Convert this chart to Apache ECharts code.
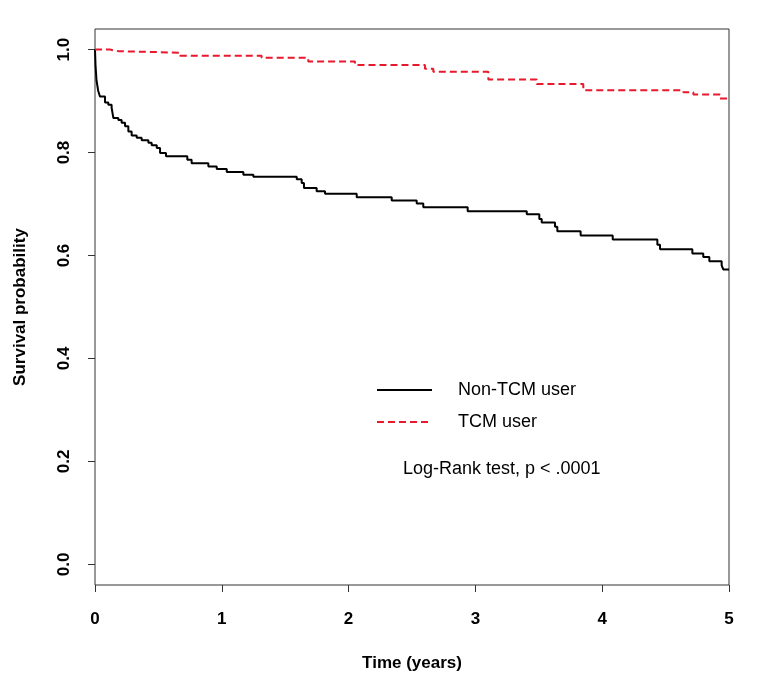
<!DOCTYPE html>
<html>
<head>
<meta charset="utf-8">
<title>Survival probability</title>
<script src="https://cdn.jsdelivr.net/npm/echarts@6/dist/echarts.min.js"></script>
<style>
  html, body { margin: 0; padding: 0; background: #fff; }
  #chart { width: 760px; height: 681px; }
</style>
</head>
<body>
<div id="chart"></div>
<script>
// Kaplan-Meier step points: [time in years, survival after the step]
const nonTcmTimes = [0, 0.004, 0.012, 0.025, 0.039, 0.079, 0.105, 0.131, 0.145, 0.184, 0.21, 0.237, 0.263, 0.289, 0.329,
  0.368, 0.421, 0.447, 0.487, 0.513, 0.56, 0.728, 0.762, 0.894, 0.96, 1.039, 1.17, 1.249, 1.591, 1.63, 1.648, 1.748,
  1.814, 2.064, 2.34, 2.537, 2.589, 2.939, 3.405, 3.504, 3.523, 3.628, 3.646, 3.83, 4.083, 4.435, 4.456, 4.711,
  4.797, 4.845, 4.942, 4.955, 5];
const nonTcmSurv = [1, 0.97, 0.94, 0.92, 0.909, 0.897, 0.893, 0.887, 0.867, 0.863, 0.858, 0.851, 0.841, 0.833, 0.829,
  0.824, 0.819, 0.814, 0.809, 0.799, 0.793, 0.786, 0.779, 0.773, 0.768, 0.762, 0.757, 0.753, 0.748, 0.741, 0.731, 0.725,
  0.72, 0.713, 0.707, 0.701, 0.694, 0.686, 0.68, 0.671, 0.664, 0.656, 0.647, 0.639, 0.631, 0.621, 0.612, 0.604,
  0.597, 0.589, 0.581, 0.573, 0.573];

const tcmTimes = [0, 0.118, 0.184, 0.67, 1.314, 1.682, 2.05, 2.602, 2.668, 3.102, 3.483, 3.851, 4.64, 4.719, 4.929, 5];
const tcmSurv = [1, 0.997, 0.994, 0.988, 0.984, 0.977, 0.97, 0.963, 0.957, 0.942, 0.933, 0.921, 0.917, 0.913, 0.905, 0.905];

const xTicks = [0, 1, 2, 3, 4, 5];
const yTicks = [0, 0.2, 0.4, 0.6, 0.8, 1.0];

const FONT = '"Liberation Sans", Arial, sans-serif';

const zip = (a, b) => a.map((v, i) => [v, b[i]]);

const chart = echarts.init(document.getElementById('chart'));

chart.setOption({
  backgroundColor: '#fff',
  animation: false,
  grid: {
    left: 95, right: 31, top: 29, bottom: 96,
    show: true, borderColor: '#333', borderWidth: 1, backgroundColor: 'transparent'
  },
  xAxis: {
    type: 'value', min: 0, max: 5, interval: 1,
    axisLine: { show: false, onZero: false },
    axisTick: { show: true, inside: false, length: 7, lineStyle: { color: '#333' } },
    splitLine: { show: false },
    axisLabel: {
      margin: 26, fontFamily: FONT, fontWeight: 'bold', fontSize: 17, color: '#000',
      formatter: v => xTicks.includes(v) ? String(v) : ''
    },
    name: 'Time (years)', nameLocation: 'middle', nameGap: 70,
    nameTextStyle: { fontFamily: FONT, fontWeight: 'bold', fontSize: 17, color: '#000' }
  },
  yAxis: {
    type: 'value', min: -0.04, max: 1.04,
    axisLine: { show: false, onZero: false },
    axisTick: { show: true, length: 7, customValues: yTicks, lineStyle: { color: '#333' } },
    splitLine: { show: false },
    axisLabel: {
      customValues: yTicks, rotate: 90, margin: 22,
      fontFamily: FONT, fontWeight: 'bold', fontSize: 17, color: '#000',
      formatter: v => v.toFixed(1)
    },
    name: 'Survival probability', nameLocation: 'middle', nameGap: 66, nameRotate: 90,
    nameTextStyle: { fontFamily: FONT, fontWeight: 'bold', fontSize: 17, color: '#000' }
  },
  legend: {
    orient: 'vertical', left: 371, top: 376,
    itemWidth: 55, itemHeight: 18, itemGap: 14,
    itemStyle: { opacity: 0 },
    textStyle: { fontFamily: FONT, fontSize: 18, color: '#000', padding: [0, 0, 0, 21] },
    data: ['Non-TCM user', 'TCM user']
  },
  title: {
    text: 'Log-Rank test, p < .0001', left: 398, top: 455,
    textStyle: { fontFamily: FONT, fontSize: 18, fontWeight: 'normal', color: '#000' }
  },
  series: [
    {
      name: 'Non-TCM user', type: 'line', step: 'end', symbol: 'none',
      data: zip(nonTcmTimes, nonTcmSurv),
      lineStyle: { color: '#000', width: 2 }, itemStyle: { color: '#000' }
    },
    {
      name: 'TCM user', type: 'line', step: 'end', symbol: 'none',
      data: zip(tcmTimes, tcmSurv),
      lineStyle: { color: '#e8192c', width: 2, type: [7, 4] }, itemStyle: { color: '#e8192c' }
    }
  ]
});
</script>
</body>
</html>
